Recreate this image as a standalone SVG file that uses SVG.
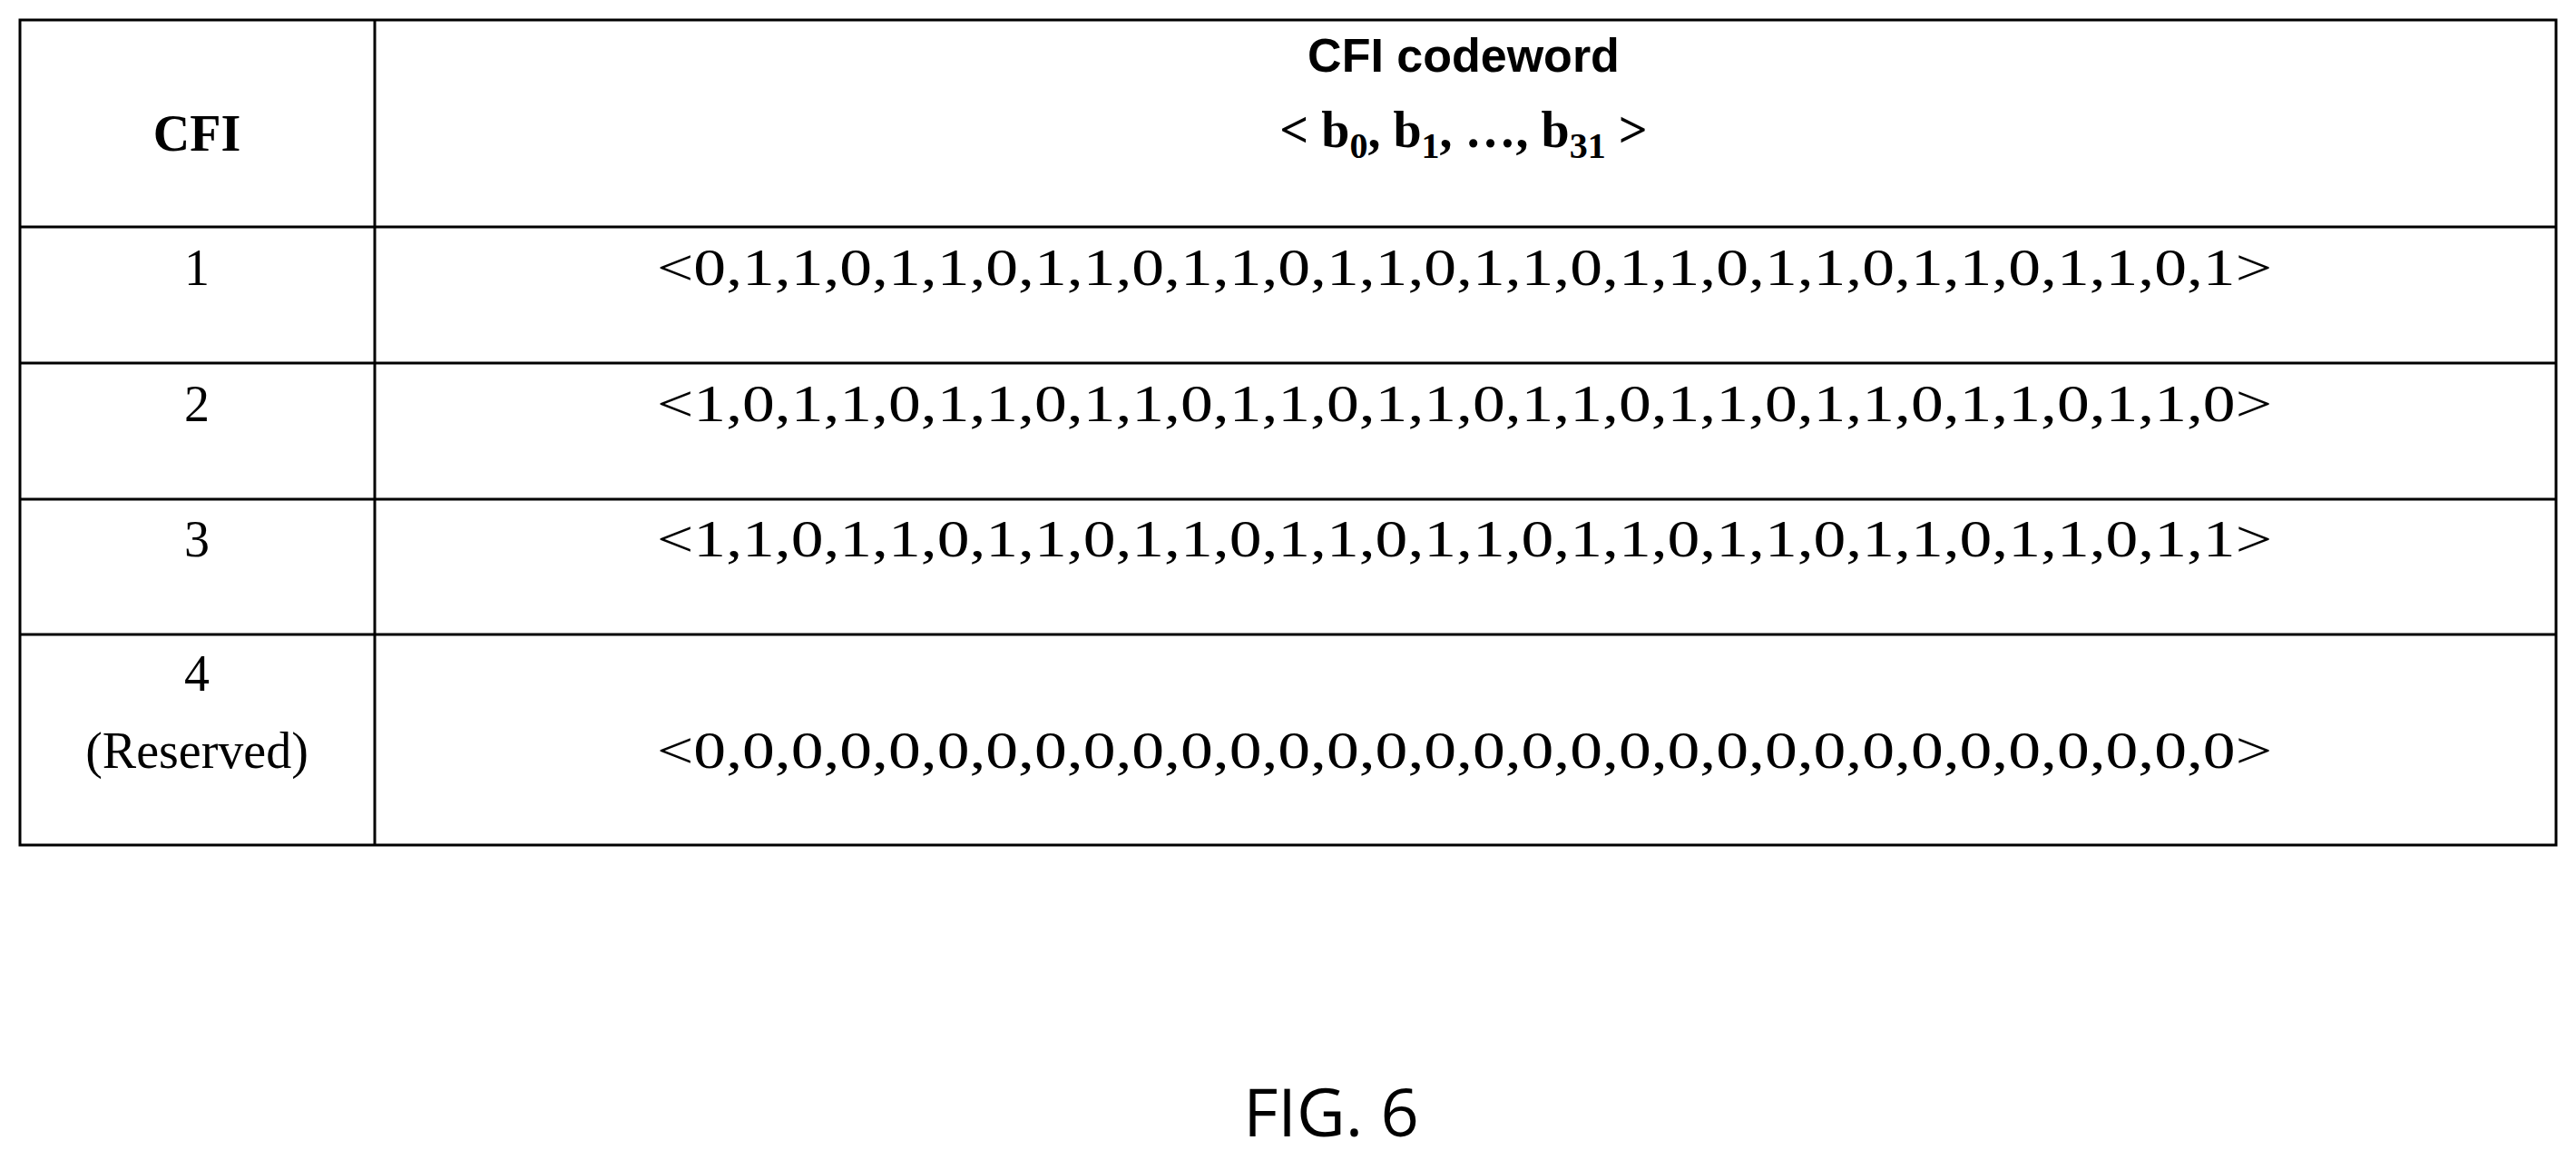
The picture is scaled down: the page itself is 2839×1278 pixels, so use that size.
<svg xmlns="http://www.w3.org/2000/svg" width="2839" height="1278" viewBox="0 0 2839 1278">
<style>
.l{stroke:#000;stroke-width:3;fill:none}
.t{font-family:"Liberation Serif",serif;font-size:56px;text-anchor:middle}
.c{font-family:"Liberation Serif",serif;font-size:56px;text-anchor:middle}
.b{font-family:"Liberation Sans",sans-serif;font-weight:bold;font-size:52px;text-anchor:middle}
</style>
<rect width="2839" height="1278" fill="#fff"/>
<g id="table">
<rect class="l" x="22" y="22" width="2795" height="909"/>
<line class="l" x1="413" y1="22" x2="413" y2="931"/>
<line class="l" x1="22" y1="250" x2="2817" y2="250"/>
<line class="l" x1="22" y1="400" x2="2817" y2="400"/>
<line class="l" x1="22" y1="550" x2="2817" y2="550"/>
<line class="l" x1="22" y1="699" x2="2817" y2="699"/>
</g>
<g id="header">
<text class="t" x="217" y="166" font-weight="bold">CFI</text>
<text class="b" x="1613" y="79">CFI codeword</text>
<text class="t" x="1613" y="162" font-weight="bold" font-size="60">&lt; b<tspan font-size="40" dy="12">0</tspan><tspan dy="-12">, b</tspan><tspan font-size="40" dy="12">1</tspan><tspan dy="-12">, …, b</tspan><tspan font-size="40" dy="12">31</tspan><tspan dy="-12"> &gt;</tspan></text>
</g>
<g id="rows">
<text class="t" x="217" y="314">1</text>
<text class="c" x="1614" y="314" textLength="1780" lengthAdjust="spacingAndGlyphs">&lt;0,1,1,0,1,1,0,1,1,0,1,1,0,1,1,0,1,1,0,1,1,0,1,1,0,1,1,0,1,1,0,1&gt;</text>
<text class="t" x="217" y="464">2</text>
<text class="c" x="1614" y="464" textLength="1780" lengthAdjust="spacingAndGlyphs">&lt;1,0,1,1,0,1,1,0,1,1,0,1,1,0,1,1,0,1,1,0,1,1,0,1,1,0,1,1,0,1,1,0&gt;</text>
<text class="t" x="217" y="613">3</text>
<text class="c" x="1614" y="613" textLength="1780" lengthAdjust="spacingAndGlyphs">&lt;1,1,0,1,1,0,1,1,0,1,1,0,1,1,0,1,1,0,1,1,0,1,1,0,1,1,0,1,1,0,1,1&gt;</text>
<text class="t" x="217" y="761">4</text>
<text class="t" x="217" y="846">(Reserved)</text>
<text class="c" x="1614" y="846" textLength="1780" lengthAdjust="spacingAndGlyphs">&lt;0,0,0,0,0,0,0,0,0,0,0,0,0,0,0,0,0,0,0,0,0,0,0,0,0,0,0,0,0,0,0,0&gt;</text>
</g>
<text x="1467" y="1252" font-family="Open Sans,sans-serif" font-size="74" text-anchor="middle">FIG. 6</text>
</svg>
